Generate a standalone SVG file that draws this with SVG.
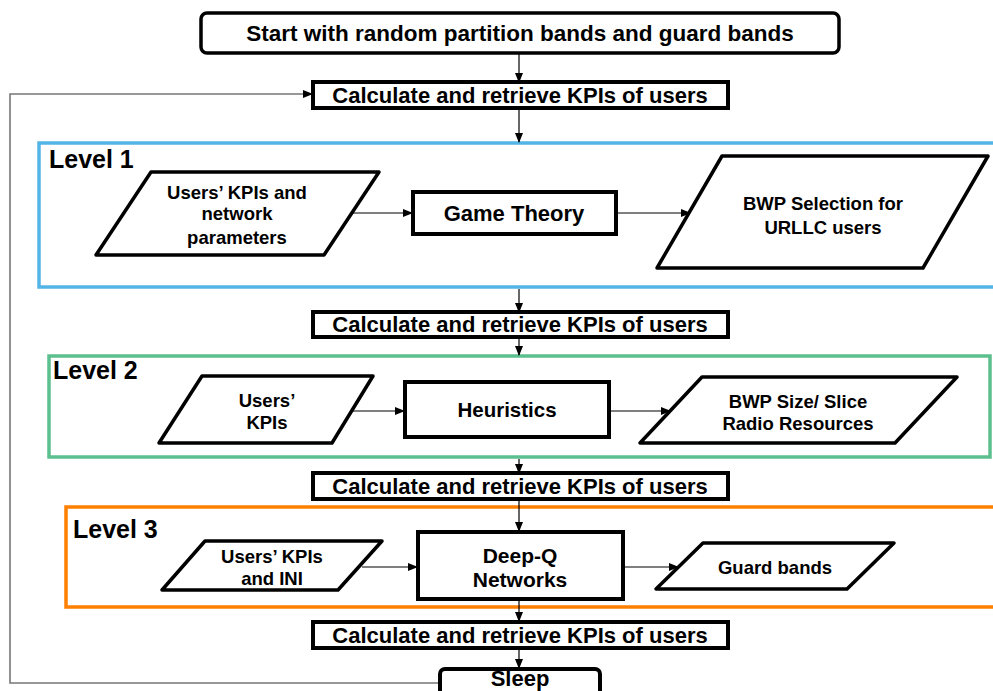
<svg xmlns="http://www.w3.org/2000/svg" width="993" height="691" viewBox="0 0 993 691">
<defs>
<marker id="ah" markerWidth="10" markerHeight="8" refX="9" refY="4" orient="auto" markerUnits="userSpaceOnUse">
<path d="M0,0 L10,4 L0,8 z" fill="#000"/>
</marker>
<style>
text{font-family:"Liberation Sans",Arial,Helvetica,sans-serif;font-weight:bold;fill:#000;text-anchor:middle}
.lvl{text-anchor:start;font-size:25px}
.big{font-size:22px}
.start{font-size:22.5px}
.mid{font-size:20.5px}
.sm{font-size:18.5px}
.node{fill:#fff;stroke:#000;stroke-width:3.5;stroke-linejoin:round}
.kpi{fill:#fff;stroke:#000;stroke-width:4}
.conn{fill:none;stroke:#000;stroke-width:1.2}
.fb{fill:none;stroke:#777;stroke-width:1.6}
</style>
</defs>
<rect width="993" height="691" fill="#fff"/>

<g id="level1">
<rect x="39" y="143" width="980" height="144" fill="none" stroke="#53B4E6" stroke-width="3.5"/>
<text class="lvl" x="49" y="168">Level 1</text>
</g>
<g id="level2">
<rect x="49" y="356" width="941" height="101" fill="none" stroke="#5CC08E" stroke-width="3.5"/>
<text class="lvl" x="53" y="379">Level 2</text>
</g>
<g id="level3">
<rect x="66" y="507" width="960" height="100" fill="none" stroke="#FF7F00" stroke-width="3.5"/>
<text class="lvl" x="73" y="538">Level 3</text>
</g>

<g id="connectors">
<line class="conn" x1="519" y1="53" x2="519" y2="82" marker-end="url(#ah)"/>
<line class="conn" x1="519" y1="108" x2="519" y2="142" marker-end="url(#ah)"/>
<line class="conn" x1="519" y1="289" x2="519" y2="312" marker-end="url(#ah)"/>
<line class="conn" x1="519" y1="337" x2="519" y2="355" marker-end="url(#ah)"/>
<line class="conn" x1="519" y1="459" x2="519" y2="473" marker-end="url(#ah)"/>
<line class="conn" x1="519" y1="499" x2="519" y2="531" marker-end="url(#ah)"/>
<line class="conn" x1="519" y1="600" x2="519" y2="621" marker-end="url(#ah)"/>
<line class="conn" x1="519" y1="649" x2="519" y2="668" marker-end="url(#ah)"/>
<line class="conn" x1="351" y1="213" x2="412" y2="213" marker-end="url(#ah)"/>
<line class="conn" x1="617" y1="213" x2="690" y2="213" marker-end="url(#ah)"/>
<line class="conn" x1="352" y1="411" x2="404" y2="411" marker-end="url(#ah)"/>
<line class="conn" x1="609" y1="411" x2="670" y2="411" marker-end="url(#ah)"/>
<line class="conn" x1="362" y1="567" x2="417" y2="567" marker-end="url(#ah)"/>
<line class="conn" x1="623" y1="567" x2="678" y2="567" marker-end="url(#ah)"/>
<polyline class="fb" points="440,683 10,683 10,94 312,94" marker-end="url(#ah)"/>
</g>

<g id="start">
<rect class="node" x="201" y="13" width="638" height="40" rx="6"/>
<text class="start" x="520" y="41">Start with random partition bands and guard bands</text>
</g>
<g id="kpi1">
<rect class="kpi" x="313" y="82" width="415" height="26"/>
<text class="big" x="520" y="103">Calculate and retrieve KPIs of users</text>
</g>
<g id="in1">
<polygon class="node" points="151,172 379,172 324,255 96,255"/>
<text class="sm" x="237" y="199">Users’ KPIs and</text>
<text class="sm" x="237" y="220">network</text>
<text class="sm" x="237" y="244">parameters</text>
</g>
<g id="game">
<rect class="kpi" x="413" y="192" width="203" height="42"/>
<text class="big" x="514" y="221">Game Theory</text>
</g>
<g id="out1">
<polygon class="node" points="722,156 988,156 923,268 657,268"/>
<text class="sm" x="823" y="210">BWP Selection for</text>
<text class="sm" x="823" y="234">URLLC users</text>
</g>
<g id="kpi2">
<rect class="kpi" x="313" y="312" width="415" height="25"/>
<text class="big" x="520" y="332">Calculate and retrieve KPIs of users</text>
</g>
<g id="in2">
<polygon class="node" points="202,376 373,376 332,443 159,443"/>
<text class="sm" x="267" y="407">Users’</text>
<text class="sm" x="267" y="429">KPIs</text>
</g>
<g id="heur">
<rect class="kpi" x="405" y="382" width="204" height="55"/>
<text class="mid" x="507" y="417">Heuristics</text>
</g>
<g id="out2">
<polygon class="node" points="702,377 957,377 895,443 640,443"/>
<text class="sm" x="798" y="408">BWP Size/ Slice</text>
<text class="sm" x="798" y="430">Radio Resources</text>
</g>
<g id="kpi3">
<rect class="kpi" x="313" y="473" width="415" height="26"/>
<text class="big" x="520" y="494">Calculate and retrieve KPIs of users</text>
</g>
<g id="in3">
<polygon class="node" points="205,541 382,541 338,590 162,590"/>
<text class="sm" x="272" y="563">Users’ KPIs</text>
<text class="sm" x="272" y="585">and INI</text>
</g>
<g id="dqn">
<rect class="kpi" x="418" y="532" width="205" height="67"/>
<text class="mid" x="520" y="563" style="font-size:21px">Deep-Q</text>
<text class="mid" x="520" y="587" style="font-size:21px">Networks</text>
</g>
<g id="out3">
<polygon class="node" points="703,543 894,543 847,589 656,589"/>
<text class="sm" x="775" y="574">Guard bands</text>
</g>
<g id="kpi4">
<rect class="kpi" x="313" y="622" width="415" height="26"/>
<text class="big" x="520" y="643">Calculate and retrieve KPIs of users</text>
</g>
<g id="sleep">
<rect class="kpi" x="440" y="669" width="160" height="40" rx="5"/>
<text class="big" x="520" y="685.5">Sleep</text>
</g>
</svg>
